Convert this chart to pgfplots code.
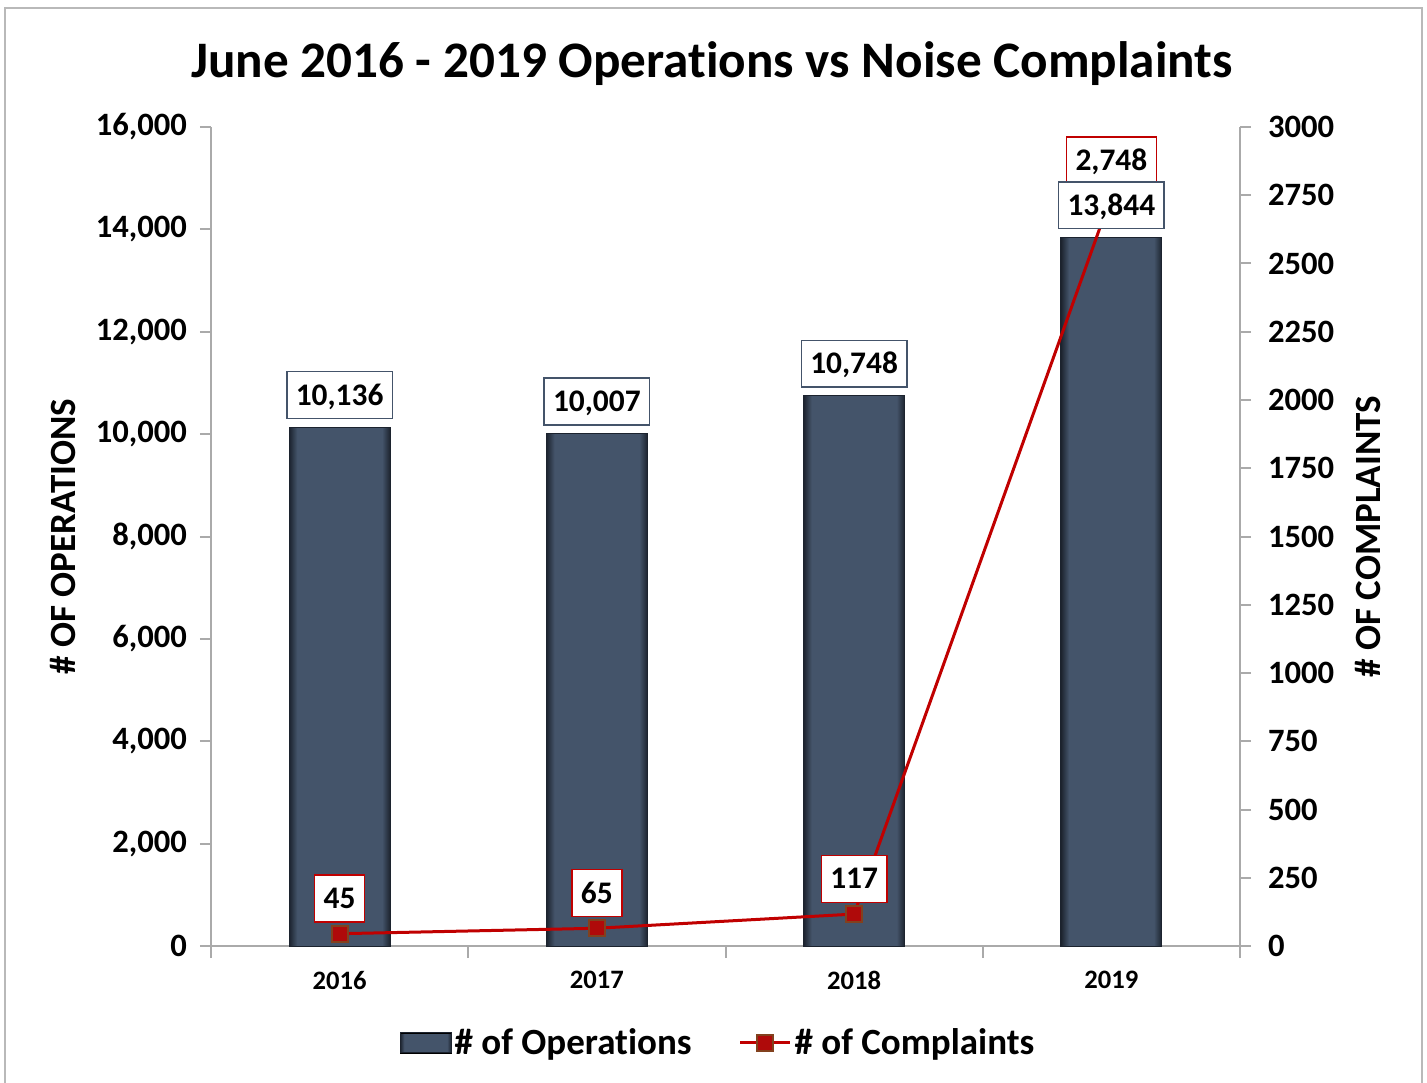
\documentclass[border=0pt]{standalone}
\usepackage{pgfplots}
\pgfplotsset{compat=1.18}
\usepackage{fontspec}
\setmainfont{Carlito}[Ligatures=NoCommon]
\definecolor{barc}{RGB}{68,84,106}
\definecolor{bardark}{RGB}{28,35,46}
\definecolor{redl}{RGB}{192,0,0}
\definecolor{mkfill}{RGB}{175,10,10}
\definecolor{mkdraw}{RGB}{130,65,30}
\definecolor{axgray}{RGB}{170,170,170}
\definecolor{framegray}{RGB}{185,185,185}
\pgfdeclarehorizontalshading{barshade}{100bp}{color(0bp)=(bardark); color(25bp)=(bardark); color(29bp)=(barc); color(71bp)=(barc); color(75bp)=(bardark); color(100bp)=(bardark)}
\pgfplotsset{/pgf/number format/.cd, 1000 sep={,}, assume math mode=true}
\pgfplotsset{linelegend/.style={legend image code/.code={\draw[mark repeat=2, mark phase=2, ##1] plot coordinates {(0pt,0pt) (12.5pt,0pt) (25pt,0pt)};}}}
\pgfplotsset{barlegend/.style={legend image code/.code={\shade[shading=barshade] (0pt,-5pt) rectangle (25.5pt,5pt); \draw[bardark, line width=0.5pt] (0pt,-5pt) rectangle (25.5pt,5pt);}}}
\pgfplotsset{opbar/.style={ybar, bar width=50.5pt, bar shift=0pt, draw=bardark, line width=0.5pt, shade, shading=barshade}}
\newcommand{\lblfont}{\bfseries\fontsize{15.7}{18}\selectfont}
\newcommand{\tickfont}{\bfseries\fontsize{16.3}{19}\selectfont}
\begin{document}
\begin{tikzpicture}
\useasboundingbox (-105.5pt,-68pt) rectangle (608pt,473pt);
\draw[framegray, line width=1pt] (-102.75pt,-70pt) -- (-102.75pt,469pt) -- (605.5pt,469pt) -- (605.5pt,-70pt);
\node[font=\bfseries\fontsize{25.6}{30}\selectfont, anchor=base] at (250.5pt,434pt) {June 2016 - 2019 Operations vs Noise Complaints};
% axis 1: bars
\begin{axis}[
  at={(0pt,0pt)}, anchor=south west, scale only axis,
  width=514.5pt, height=409.5pt,
  xmin=-0.5, xmax=3.5, ymin=0, ymax=16000,
  axis x line*=bottom, axis y line*=left,
  axis line style={-, draw=axgray, line width=1pt},
  tick align=outside,
  xtick={0,1,2,3}, xticklabels={2016,2017,2018,2019},
  minor xtick={-0.5,0.5,1.5,2.5,3.5},
  major x tick style={draw=none},
  minor x tick style={draw=axgray, line width=1pt},
  minor tick length=6pt, major tick length=5.5pt,
  y tick style={draw=axgray, line width=1pt},
  ytick={0,2000,...,16000},
  scaled y ticks=false,
  yticklabel style={font=\tickfont, xshift=-3pt},
  xticklabel style={font=\bfseries\fontsize{13.3}{16}\selectfont, yshift=-3.5pt},
  ylabel={\# OF OPERATIONS},
  every axis y label/.style={at={(axis description cs:-0.1438,0.5)}, rotate=90, anchor=center, font=\bfseries\fontsize{18.5}{22}\selectfont},
]
\addplot[opbar] coordinates {(0,10136)};
\addplot[opbar] coordinates {(1,10007)};
\addplot[opbar] coordinates {(2,10748)};
\addplot[opbar] coordinates {(3,13844)};
\end{axis}
% axis 2: complaints
\begin{axis}[
  at={(0pt,0pt)}, anchor=south west, scale only axis,
  width=514.5pt, height=409.5pt,
  xmin=-0.5, xmax=3.5, ymin=0, ymax=3000,
  axis x line=none, axis y line*=right,
  axis line style={-, draw=axgray, line width=1pt},
  tick align=outside, major tick length=5.5pt,
  y tick style={draw=axgray, line width=1pt},
  ytick={0,250,...,3000},
  scaled y ticks=false,
  yticklabel style={font=\tickfont, xshift=5pt, /pgf/number format/1000 sep={}},
  ylabel={\# OF COMPLAINTS},
  every axis y label/.style={at={(axis description cs:1.1244,0.5)}, rotate=90, anchor=center, font=\bfseries\fontsize{18.5}{22}\selectfont},
  clip=false,
]
\addplot[redl, line width=1.5pt, mark=square*, mark size=4pt,
  mark options={draw=mkdraw, fill=mkfill, line width=1pt},
  nodes near coords,
  every node near coord/.append style={anchor=south, yshift=5.5pt, draw=redl, fill=white, line width=0.75pt, text=black, font=\lblfont, text height=10pt, text depth=0pt, inner xsep=4.5pt, inner ysep=6.7pt}]
  coordinates {(0,45) (1,65) (2,117) (3,2748)};
\end{axis}
% axis 3: operation labels + legend
\begin{axis}[
  at={(0pt,0pt)}, anchor=south west, scale only axis,
  width=514.5pt, height=409.5pt,
  xmin=-0.5, xmax=3.5, ymin=0, ymax=16000,
  hide axis, clip=false,
  legend columns=2,
  legend style={draw=none, fill=none, at={(0.4932,-0.1184)}, anchor=center, font=\bfseries\fontsize{18.5}{22}\selectfont, /tikz/every even column/.append style={column sep=22pt}, nodes={inner sep=1.5pt}},
  legend cell align=left,
]
\addplot[draw=none, mark=none, forget plot,
  nodes near coords,
  every node near coord/.append style={anchor=south, yshift=4pt, draw=barc, fill=white, line width=0.75pt, text=black, font=\lblfont, text height=10pt, text depth=0pt, inner xsep=4.5pt, inner ysep=6.7pt}]
  coordinates {(0,10136) (1,10007) (2,10748) (3,13844)};
\addlegendimage{barlegend}
\addlegendentry{\# of Operations}
\addlegendimage{linelegend, redl, line width=1.5pt, mark=square*, mark size=4pt, mark options={draw=mkdraw, fill=mkfill, line width=1pt}}
\addlegendentry{\# of Complaints}
\end{axis}
\end{tikzpicture}
\end{document}
